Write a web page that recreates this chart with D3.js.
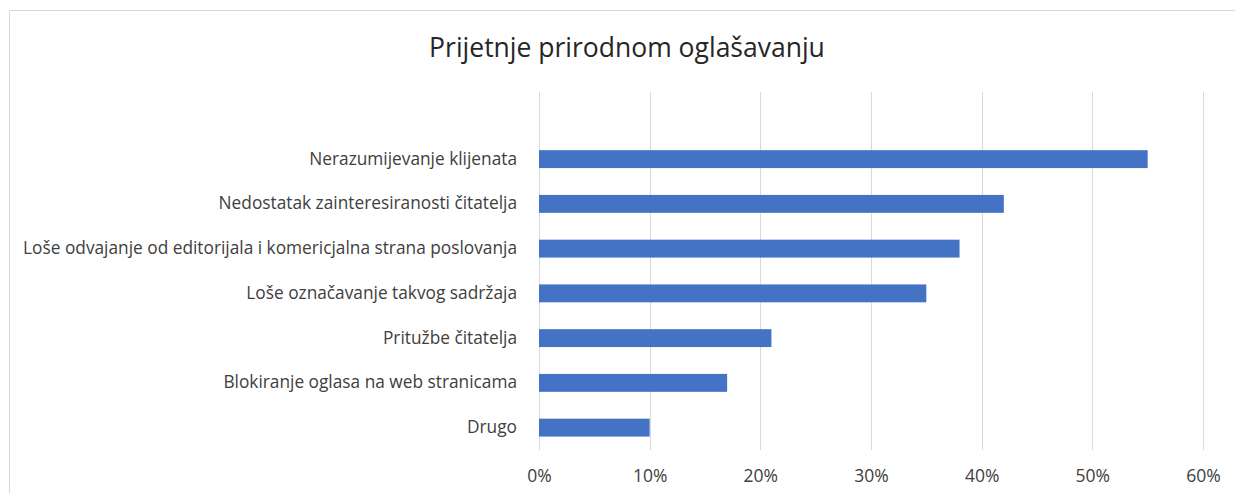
<!DOCTYPE html>
<html>
<head>
<meta charset="utf-8">
<script src="https://cdn.jsdelivr.net/npm/d3@7"></script>
<style>
  body { margin: 0; background: #fff; }
  svg text { font-family: "Open Sans", "Noto Sans", sans-serif; fill: #404040; }
</style>
</head>
<body>
<div id="chart"></div>
<script>
const categories = [
  "Nerazumijevanje klijenata",
  "Nedostatak zainteresiranosti čitatelja",
  "Loše odvajanje od editorijala i komericjalna strana poslovanja",
  "Loše označavanje takvog sadržaja",
  "Pritužbe čitatelja",
  "Blokiranje oglasa na web stranicama",
  "Drugo"
];
const values = [0.55, 0.42, 0.38, 0.35, 0.21, 0.17, 0.10];
const ticks = [0, 0.1, 0.2, 0.3, 0.4, 0.5, 0.6];

const w = 1235,
  h = 493;
const plot = { left: 539, right: 1203, top: 92, bottom: 450 };

const svg = d3
  .select("#chart")
  .append("svg")
  .attr("width", w)
  .attr("height", h);

// chart frame (only top and left edges show in the picture)
svg
  .append("path")
  .attr("d", "M9.5," + h + "V10.5H" + w)
  .attr("fill", "none")
  .attr("stroke", "#d9d9d9");

svg
  .append("text")
  .attr("x", 627)
  .attr("y", 57)
  .attr("text-anchor", "middle")
  .style("font-size", "26.5px")
  .style("fill", "#262626")
  .text("Prijetnje prirodnom oglašavanju");

const x = d3.scaleLinear().domain([0, 0.6]).range([plot.left, plot.right]);

// one empty slot above the first category, like the source chart
const y = d3
  .scaleBand()
  .domain([""].concat(categories))
  .range([plot.top, plot.bottom])
  .paddingInner(0.6)
  .paddingOuter(0.3);

// gridlines
svg
  .append("g")
  .selectAll("line")
  .data(ticks)
  .enter()
  .append("line")
  .attr("x1", (d) => Math.round(x(d)) + 0.5)
  .attr("x2", (d) => Math.round(x(d)) + 0.5)
  .attr("y1", plot.top)
  .attr("y2", plot.bottom)
  .attr("stroke", "#d9d9d9");

const xAxis = d3
  .axisBottom(x)
  .tickValues(ticks)
  .tickFormat(d3.format(".0%"))
  .tickSize(0)
  .tickPadding(20);

const gx = svg
  .append("g")
  .attr("transform", "translate(0," + plot.bottom + ")")
  .call(xAxis);
gx.select(".domain").remove();
gx.selectAll("text").style("font-size", "17.5px");

const yAxis = d3.axisLeft(y).tickSize(0).tickPadding(22);
const gy = svg
  .append("g")
  .attr("transform", "translate(" + plot.left + ",0)")
  .call(yAxis);
gy.select(".domain").remove();
gy.selectAll("text").style("font-size", "17.3px");

svg
  .append("g")
  .selectAll("rect")
  .data(values)
  .enter()
  .append("rect")
  .attr("x", x(0))
  .attr("y", (d, i) => y(categories[i]))
  .attr("width", (d) => x(d) - x(0))
  .attr("height", y.bandwidth())
  .attr("fill", "#4472c4");
</script>
</body>
</html>
